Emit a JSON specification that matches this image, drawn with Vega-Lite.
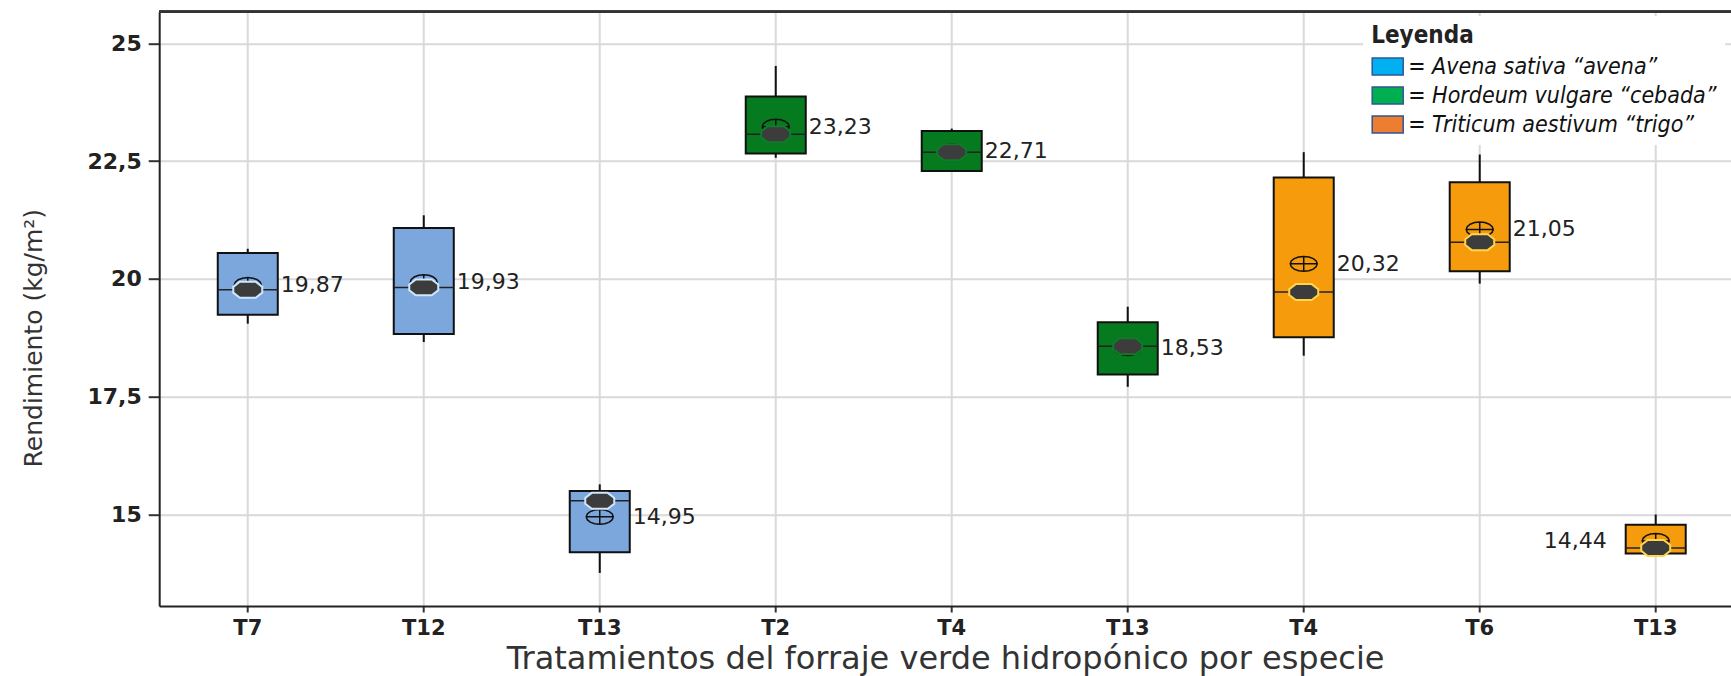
{
  "$schema": "https://vega.github.io/schema/vega-lite/v6.json",
  "width": 1571.8,
  "height": 594.3,
  "autosize": {"type": "none"},
  "padding": {"left": 159.2, "top": 11.7, "right": 0, "bottom": 70},
  "background": "white",
  "config": {
    "view": {"stroke": null},
    "locale": {
      "number": {"decimal": ",", "thousands": ".", "grouping": [3], "currency": ["", " €"]}
    }
  },
  "data": {
    "values": [
      {"especie": "avena", "clave": "avena|T7", "min": 19.05, "q1": 19.24, "mediana": 19.77, "q3": 20.55, "max": 20.64, "media": 19.87},
      {"especie": "avena", "clave": "avena|T12", "min": 18.66, "q1": 18.83, "mediana": 19.82, "q3": 21.08, "max": 21.35, "media": 19.93},
      {"especie": "avena", "clave": "avena|T13", "min": 13.76, "q1": 14.2, "mediana": 15.29, "q3": 15.5, "max": 15.64, "media": 14.95},
      {"especie": "cebada", "clave": "cebada|T2", "min": 22.57, "q1": 22.66, "mediana": 23.07, "q3": 23.87, "max": 24.52, "media": 23.23},
      {"especie": "cebada", "clave": "cebada|T4", "min": 22.28, "q1": 22.29, "mediana": 22.69, "q3": 23.14, "max": 23.19, "media": 22.71},
      {"especie": "cebada", "clave": "cebada|T13", "min": 17.71, "q1": 17.97, "mediana": 18.57, "q3": 19.08, "max": 19.41, "media": 18.53},
      {"especie": "trigo", "clave": "trigo|T4", "min": 18.37, "q1": 18.76, "mediana": 19.72, "q3": 22.15, "max": 22.69, "media": 20.32},
      {"especie": "trigo", "clave": "trigo|T6", "min": 19.9, "q1": 20.16, "mediana": 20.78, "q3": 22.05, "max": 22.64, "media": 21.05},
      {"especie": "trigo", "clave": "trigo|T13", "min": 14.17, "q1": 14.17, "mediana": 14.29, "q3": 14.78, "max": 15.0, "media": 14.44}
    ]
  },
  "layer": [
    {
      "mark": {"type": "rule", "color": "#333333", "strokeWidth": 2},
      "encoding": {"y": {"datum": 25.671, "type": "quantitative"}}
    },
    {
      "mark": {"type": "rule", "color": "#111111", "strokeWidth": 2},
      "encoding": {
        "x": {
          "field": "clave",
          "type": "nominal",
          "sort": null,
          "scale": {
            "type": "band",
            "domain": ["avena|T7", "avena|T12", "avena|T13", "cebada|T2", "cebada|T4", "cebada|T13", "trigo|T4", "trigo|T6", "trigo|T13"],
            "paddingInner": 0.659,
            "paddingOuter": 0.295,
            "align": 0.564
          },
          "axis": {
            "title": "Tratamientos del forraje verde hidropónico por especie",
            "labelExpr": "split(datum.label, '|')[1]",
            "labelAngle": 0,
            "labelFont": "DejaVu Sans",
            "labelFontWeight": "bold",
            "labelFontSize": 21,
            "labelColor": "#222222",
            "labelPadding": 5,
            "tickSize": 6,
            "tickWidth": 2,
            "tickColor": "#333333",
            "domainColor": "#222222",
            "domainWidth": 2,
            "grid": true,
            "gridColor": "#d9d9d9",
            "gridWidth": 2,
            "titleFont": "DejaVu Sans",
            "titleFontWeight": "normal",
            "titleFontSize": 32,
            "titleColor": "#333333",
            "titleY": 52,
            "titleBaseline": "middle"
          }
        },
        "y": {
          "field": "min",
          "type": "quantitative",
          "scale": {"domain": [13.058, 25.671], "nice": false, "zero": false},
          "axis": {
            "title": "Rendimiento (kg/m²)",
            "values": [15, 17.5, 20, 22.5, 25],
            "format": ".1~f",
            "labelFont": "DejaVu Sans",
            "labelFontWeight": "bold",
            "labelFontSize": 22,
            "labelColor": "#222222",
            "labelPadding": 7,
            "tickSize": 11,
            "tickWidth": 2,
            "tickColor": "#333333",
            "domainColor": "#222222",
            "domainWidth": 2,
            "grid": true,
            "gridColor": "#d9d9d9",
            "gridWidth": 2,
            "titleFont": "DejaVu Sans",
            "titleFontWeight": "normal",
            "titleFontSize": 25,
            "titleColor": "#333333",
            "titleX": -125.7,
            "titleY": 326,
            "titleAngle": 270,
            "titleAlign": "center",
            "titleBaseline": "middle"
          }
        },
        "y2": {"field": "max"}
      }
    },
    {
      "mark": {"type": "point", "filled": true, "size": 20, "opacity": 1},
      "encoding": {
        "x": {"field": "clave", "type": "nominal", "sort": null},
        "y": {"field": "mediana", "type": "quantitative"},
        "color": {
          "field": "especie",
          "type": "nominal",
          "scale": {"domain": ["avena", "cebada", "trigo"], "range": ["#00b0f0", "#00b050", "#ed7d31"]},
          "legend": {
            "title": "Leyenda",
            "orient": "none",
            "legendX": 1204,
            "legendY": 4.3,
            "direction": "vertical",
            "padding": 8,
            "fillColor": "white",
            "symbolType": "M-1,-0.55L1,-0.55L1,0.55L-1,0.55Z",
            "symbolSize": 961,
            "symbolStrokeColor": "#2f5597",
            "symbolStrokeWidth": 1.5,
            "symbolOpacity": 1,
            "labelExpr": "datum.value === 'avena' ? '= Avena sativa “avena”' : datum.value === 'cebada' ? '= Hordeum vulgare “cebada”' : '= Triticum aestivum “trigo”'",
            "labelFont": "DejaVu Sans Condensed, Liberation Sans, sans-serif",
            "labelFontSize": 23,
            "labelFontStyle": "italic",
            "labelColor": "#111111",
            "labelLimit": 400,
            "labelOffset": 4,
            "rowPadding": -2,
            "titleFont": "DejaVu Sans Condensed, Liberation Sans, sans-serif",
            "titleFontSize": 24,
            "titleFontWeight": "bold",
            "titleColor": "#222222",
            "titlePadding": 2
          }
        }
      }
    },
    {
      "mark": {"type": "bar", "stroke": "#111111", "strokeWidth": 2},
      "encoding": {
        "x": {"field": "clave", "type": "nominal", "sort": null},
        "y": {"field": "q1", "type": "quantitative"},
        "y2": {"field": "q3"},
        "fill": {
          "field": "especie",
          "type": "nominal",
          "scale": {"domain": ["avena", "cebada", "trigo"], "range": ["#7ba7dc", "#057a1f", "#f59b0c"]},
          "legend": null
        }
      }
    },
    {
      "mark": {"type": "tick", "color": "#222222", "size": 60, "thickness": 1.5, "opacity": 1},
      "encoding": {
        "x": {"field": "clave", "type": "nominal", "sort": null},
        "y": {"field": "mediana", "type": "quantitative"}
      }
    },
    {
      "mark": {
        "type": "point",
        "filled": false,
        "color": "#111111",
        "strokeWidth": 1.5,
        "opacity": 1,
        "size": 729,
        "shape": "M1,0L0.924,0.21L0.707,0.389L0.383,0.508L0,0.55L-0.383,0.508L-0.707,0.389L-0.924,0.21L-1,0L-0.924,-0.21L-0.707,-0.389L-0.383,-0.508L0,-0.55L0.383,-0.508L0.707,-0.389L0.924,-0.21ZM-1,0L1,0M0,-0.55L0,0.55"
      },
      "encoding": {
        "x": {"field": "clave", "type": "nominal", "sort": null},
        "y": {"field": "media", "type": "quantitative"}
      }
    },
    {
      "mark": {
        "type": "point",
        "filled": true,
        "fill": "#3c3c3c",
        "strokeWidth": 2,
        "opacity": 1,
        "size": 841,
        "shape": "M-0.55,-0.55L0.55,-0.55L1,-0.2L1,0.2L0.55,0.55L-0.55,0.55L-1,0.2L-1,-0.2Z"
      },
      "encoding": {
        "x": {"field": "clave", "type": "nominal", "sort": null},
        "y": {"field": "mediana", "type": "quantitative"},
        "stroke": {
          "condition": [
            {"test": "datum.especie === 'avena'", "value": "#cfe6fb"},
            {"test": "datum.especie === 'trigo'", "value": "#ffd54d"}
          ],
          "value": "#127a2a"
        }
      }
    },
    {
      "transform": [{"filter": "datum.clave !== 'trigo|T13'"}],
      "mark": {"type": "text", "align": "left", "baseline": "middle", "dx": 33, "font": "DejaVu Sans", "fontSize": 22, "color": "#222222"},
      "encoding": {
        "x": {"field": "clave", "type": "nominal", "sort": null},
        "y": {"field": "media", "type": "quantitative"},
        "text": {"field": "media", "type": "quantitative", "format": ".2f"}
      }
    },
    {
      "transform": [{"filter": "datum.clave === 'trigo|T13'"}],
      "mark": {"type": "text", "align": "right", "baseline": "middle", "dx": -49, "font": "DejaVu Sans", "fontSize": 22, "color": "#222222"},
      "encoding": {
        "x": {"field": "clave", "type": "nominal", "sort": null},
        "y": {"field": "media", "type": "quantitative"},
        "text": {"field": "media", "type": "quantitative", "format": ".2f"}
      }
    }
  ]
}
